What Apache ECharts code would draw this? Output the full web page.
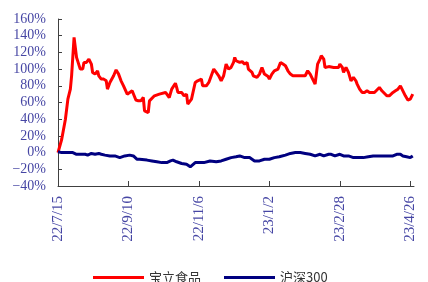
<!DOCTYPE html>
<html lang="zh">
<head>
  <meta charset="UTF-8">
  <title>宝立食品 vs 沪深300</title>
  <script src="https://cdn.jsdelivr.net/npm/echarts@6/dist/echarts.min.js"></script>
  <style>
    html, body { margin: 0; padding: 0; background: #fff; }
    #main { width: 428px; height: 282px; }
  </style>
</head>
<body>
  <div id="main"></div>
  <script>
    // x 轴用距 2022-07-15 的天数，刻度每 57 天一个
    var tickDays = [0, 57, 114, 171, 228, 285]
    var tickLabels = ['22/7/15', '22/9/10', '22/11/6', '23/1/2', '23/2/28', '23/4/26']

    // 宝立食品 累计涨跌幅 (%)
    var blDays = [0, 3, 6, 8, 10, 11, 13, 15, 16, 18, 20, 21, 23, 25, 27, 28, 30, 32, 33, 35,
      37, 39, 40, 42, 45, 47, 49, 51, 53, 54, 56, 57, 60, 61, 63, 65, 67, 69, 70, 73,
      74, 75, 78, 82, 87, 88, 90, 92, 95, 96, 97, 100, 102, 104, 105, 108, 111, 113, 116, 117,
      120, 122, 123, 126, 128, 130, 132, 134, 136, 138, 140, 142, 143, 144, 147, 149, 151, 153, 154, 157,
      158, 161, 163, 165, 167, 168, 170, 171, 173, 175, 178, 180, 182, 184, 186, 188, 190, 194, 200, 201,
      202, 204, 206, 207, 208, 210, 212, 213, 215, 216, 219, 220, 223, 224, 227, 228, 230, 231, 233, 235,
      237, 239, 241, 242, 244, 246, 248, 250, 252, 254, 256, 258, 260, 262, 264, 266, 268, 271, 273, 275,
      277, 279, 281, 283, 285, 287]
    var blVals = [0, 16, 40, 64, 76, 92, 138, 114, 112, 100, 100, 108, 108, 112, 106, 96, 94, 98, 92, 88,
      88, 86, 76, 84, 92, 99, 94, 86, 80, 78, 70, 72, 74, 76, 63, 62, 62, 66, 50, 48,
      62, 64, 68, 70, 72, 73, 66, 76, 83, 78, 72, 72, 68, 70, 58, 64, 84, 86, 88, 80,
      80, 84, 86, 100, 96, 92, 86, 92, 106, 100, 102, 108, 114, 110, 108, 109, 106, 108, 100, 96,
      92, 90, 94, 102, 94, 96, 91, 88, 94, 98, 100, 108, 106, 104, 98, 94, 92, 92, 92, 90,
      98, 94, 88, 86, 82, 106, 112, 116, 112, 102, 103, 104, 102, 104, 102, 106, 102, 96, 102, 96,
      86, 90, 86, 82, 76, 72, 72, 74, 72, 72, 72, 75, 78, 74, 71, 68, 68, 72, 74, 76,
      80, 74, 68, 63, 64, 70]

    // 沪深300 累计涨跌幅 (%)
    var hsDays = [0, 3, 7, 12, 15, 18, 19, 22, 24, 27, 30, 33, 35, 38, 42, 46, 50, 54, 58, 61,
      64, 66, 72, 76, 80, 84, 88, 91, 93, 96, 100, 104, 107, 111, 115, 118, 123, 128, 132, 136,
      140, 144, 147, 151, 155, 159, 163, 167, 171, 175, 179, 184, 188, 192, 196, 200, 204, 208, 212, 215,
      219, 221, 224, 228, 231, 235, 239, 243, 247, 251, 255, 259, 263, 267, 271, 274, 277, 279, 282, 285,
      287]
    var hsVals = [1, 0, 0, 0, -2, -2, -4, -2, -3, -1, -2, -1, -2, -3, -4, -4, -6, -4, -3, -4,
      -8, -8, -9, -10, -11, -12, -12, -10, -9, -11, -13, -14, -17, -12, -12, -12, -10, -11, -10, -8,
      -6, -5, -4, -6, -6, -10, -10, -8, -8, -6, -5, -3, -1, 0, 0, -1, -2, -4, -2, -4,
      -2, -2, -4, -2, -4, -4, -6, -6, -6, -5, -4, -4, -4, -4, -4, -2, -2, -4, -5, -6,
      -4]

    var labelColor = '#4646a4'
    var axisColor = '#404040'
    var serif = '"Liberation Serif", "DejaVu Serif", serif'

    var myChart = echarts.init(document.getElementById('main'))
    var option = {
      animation: false,
      grid: { left: 58, right: 14, top: 19, bottom: 96 },
      legend: {
        left: 88,
        top: 266,
        itemWidth: 51,
        itemHeight: 10,
        itemGap: 23,
        textStyle: { color: '#333', fontSize: 13, fontFamily: '"Noto Sans CJK SC", sans-serif' },
        data: [
          { name: '宝立食品', icon: 'path://M0,0 L51,0 L51,3 L0,3 Z' },
          { name: '沪深300', icon: 'path://M0,0 L51,0 L51,3 L0,3 Z' }
        ]
      },
      xAxis: {
        type: 'value',
        min: 0,
        max: 288,
        splitLine: { show: false },
        axisLine: { onZero: false, lineStyle: { color: axisColor, width: 1 } },
        axisTick: { inside: true, length: 5, customValues: tickDays, lineStyle: { color: axisColor } },
        axisLabel: {
          customValues: tickDays,
          rotate: 90,
          margin: 10,
          color: labelColor,
          fontSize: 15,
          fontFamily: serif,
          formatter: function (v) {
            var i = tickDays.indexOf(v)
            return i >= 0 ? tickLabels[i] : ''
          }
        }
      },
      yAxis: {
        type: 'value',
        min: -40,
        max: 160,
        interval: 20,
        splitLine: { show: false },
        axisLine: { show: true, lineStyle: { color: axisColor, width: 1 } },
        axisTick: { show: true, inside: true, length: 4, lineStyle: { color: axisColor } },
        axisLabel: {
          margin: 12,
          color: labelColor,
          fontSize: 14,
          fontFamily: serif,
          formatter: function (v) {
            return (v < 0 ? '\u2212' + (-v) : v) + '%'
          }
        }
      },
      series: [
        {
          name: '宝立食品',
          type: 'line',
          showSymbol: false,
          lineStyle: { color: '#ff0000', width: 3 },
          itemStyle: { color: '#ff0000' },
          data: blDays.map(function (d, i) { return [d, blVals[i]] })
        },
        {
          name: '沪深300',
          type: 'line',
          showSymbol: false,
          lineStyle: { color: '#000080', width: 3 },
          itemStyle: { color: '#000080' },
          data: hsDays.map(function (d, i) { return [d, hsVals[i]] })
        }
      ]
    }
    myChart.setOption(option)
  </script>
</body>
</html>
